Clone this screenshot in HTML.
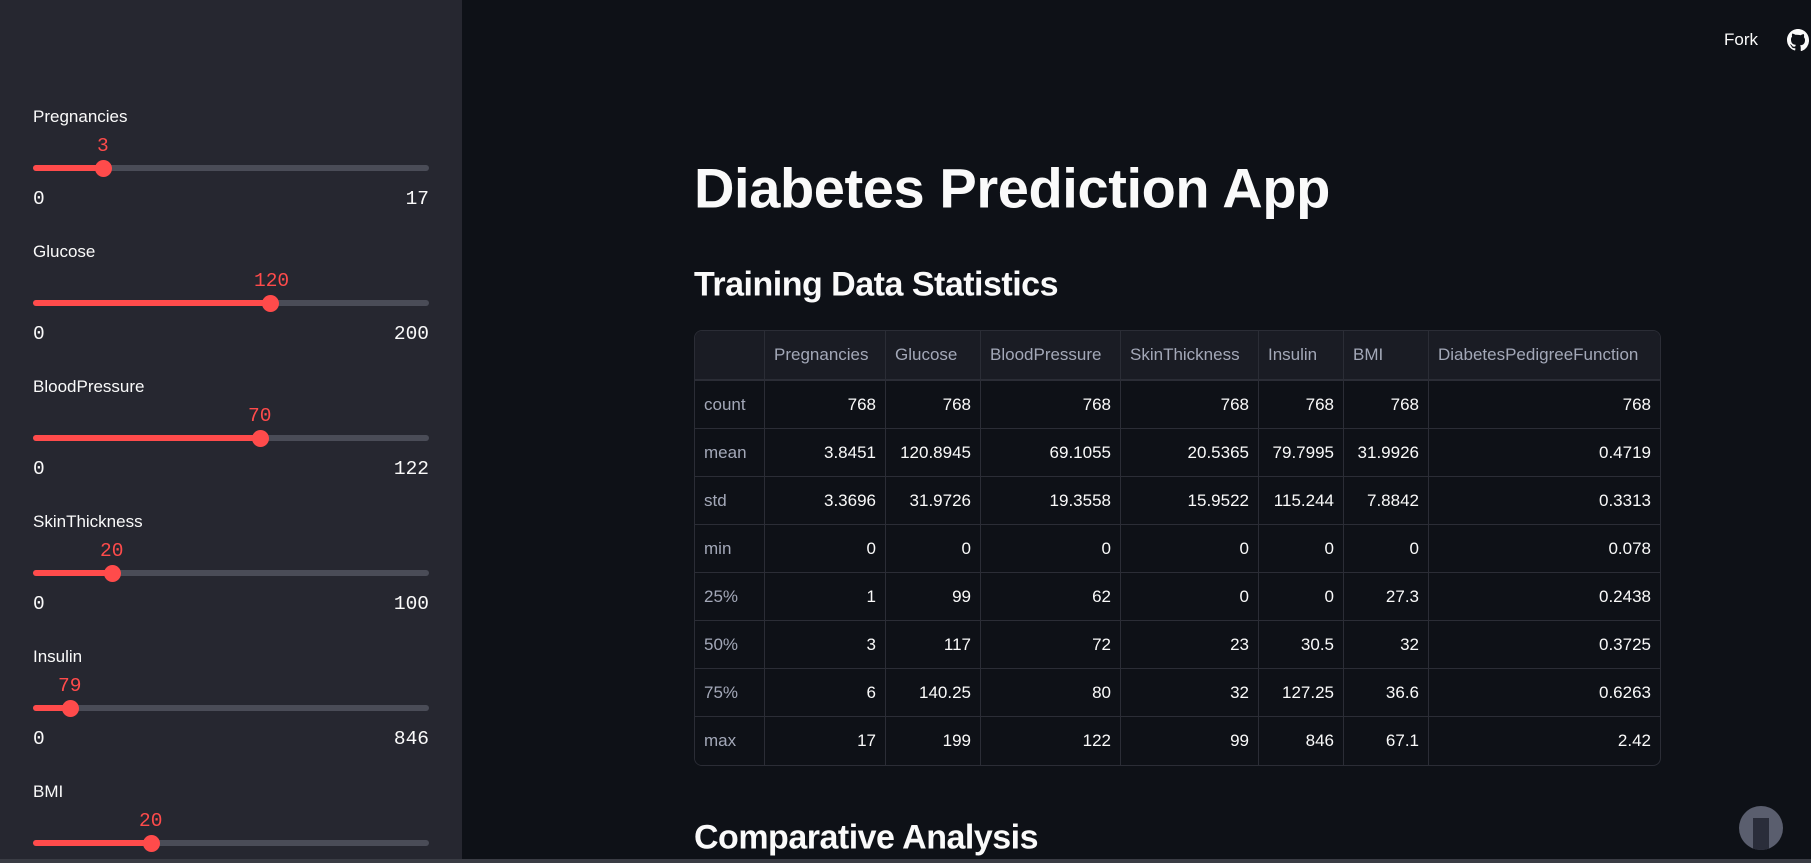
<!DOCTYPE html>
<html><head><meta charset="utf-8"><style>
*{margin:0;padding:0;box-sizing:border-box}
body{width:1811px;height:863px;background:#0e1117;overflow:hidden;position:relative;font-family:"Liberation Sans",sans-serif;color:#fafafa}
#side{position:absolute;left:0;top:0;width:462px;height:863px;background:#262730}
.lab{position:absolute;left:33px;font-size:17px;transform:translateY(-50%);color:#fafafa}
.mono{position:absolute;font-family:"Liberation Mono",monospace;font-size:19.5px;transform:translateY(-50%)}
.r0{right:33px}
.track{position:absolute;left:33px;width:396px;height:6px;border-radius:3px;background:#4a4c57}
.fill{position:absolute;left:0;top:0;height:6px;border-radius:3px;background:#ff4b4b}
.thumb{position:absolute;width:17px;height:17px;border-radius:50%;background:#ff4b4b;top:-5.5px;margin-left:-8px}
h1{position:absolute;left:694px;top:188px;transform:translateY(-50%);font-size:56px;font-weight:bold;letter-spacing:-0.4px}
h2{position:absolute;left:694px;transform:translateY(-50%);font-size:34px;font-weight:bold;letter-spacing:-0.5px}
table{position:absolute;left:694px;top:330px;width:967px;border-collapse:separate;border-spacing:0;border:1px solid #2b2d36;border-radius:8px;overflow:hidden;font-size:17px}
td,th{border-right:1px solid #2b2d36;border-bottom:1px solid #2b2d36;padding:0 9px;height:48px;text-align:right;font-weight:normal;white-space:nowrap}
th{background:#1a1c24;color:#a3a8b8;text-align:left;height:50px;border-bottom:2px solid #2b2d36}
td.r{background:#0e1117;color:#a3a8b8;text-align:left}
tr td:last-child,tr th:last-child{border-right:none}
tr:last-child td{border-bottom:none}
</style></head><body>
<div id="side">
<div class="lab" style="top:117px">Pregnancies</div>
<div class="mono" style="top:146px;left:97px;color:#ff4b4b">3</div>
<div class="track" style="top:165px"><div class="fill" style="width:70px"></div><div class="thumb" style="left:70px"></div></div>
<div class="mono" style="top:199px;left:33px">0</div><div class="mono r0" style="top:199px">17</div>

<div class="lab" style="top:252px">Glucose</div>
<div class="mono" style="top:281px;left:254px;color:#ff4b4b">120</div>
<div class="track" style="top:300px"><div class="fill" style="width:237px"></div><div class="thumb" style="left:237px"></div></div>
<div class="mono" style="top:334px;left:33px">0</div><div class="mono r0" style="top:334px">200</div>

<div class="lab" style="top:387px">BloodPressure</div>
<div class="mono" style="top:416px;left:248px;color:#ff4b4b">70</div>
<div class="track" style="top:435px"><div class="fill" style="width:227px"></div><div class="thumb" style="left:227px"></div></div>
<div class="mono" style="top:469px;left:33px">0</div><div class="mono r0" style="top:469px">122</div>

<div class="lab" style="top:522px">SkinThickness</div>
<div class="mono" style="top:551px;left:100px;color:#ff4b4b">20</div>
<div class="track" style="top:570px"><div class="fill" style="width:79px"></div><div class="thumb" style="left:79px"></div></div>
<div class="mono" style="top:604px;left:33px">0</div><div class="mono r0" style="top:604px">100</div>

<div class="lab" style="top:657px">Insulin</div>
<div class="mono" style="top:686px;left:58px;color:#ff4b4b">79</div>
<div class="track" style="top:705px"><div class="fill" style="width:37px"></div><div class="thumb" style="left:37px"></div></div>
<div class="mono" style="top:739px;left:33px">0</div><div class="mono r0" style="top:739px">846</div>

<div class="lab" style="top:792px">BMI</div>
<div class="mono" style="top:821px;left:139px;color:#ff4b4b">20</div>
<div class="track" style="top:840px"><div class="fill" style="width:118px"></div><div class="thumb" style="left:118px"></div></div>
</div>

<div style="position:absolute;left:1724px;top:40px;transform:translateY(-50%);font-size:17px">Fork</div>
<svg style="position:absolute;left:1787px;top:29px" width="22" height="22" viewBox="0 0 16 16"><path fill="#fafafa" d="M8 0C3.58 0 0 3.58 0 8c0 3.54 2.29 6.53 5.47 7.59.4.07.55-.17.55-.38v-1.33c-2.23.48-2.7-1.07-2.7-1.07-.36-.92-.89-1.17-.89-1.17-.73-.5.05-.49.05-.49.8.06 1.23.83 1.23.83.71 1.22 1.87.87 2.33.66.07-.52.28-.87.5-1.07-1.78-.2-3.64-.89-3.64-3.95 0-.87.31-1.59.82-2.15-.08-.2-.36-1.02.08-2.12 0 0 .67-.21 2.2.82A7.6 7.6 0 0 1 8 4.3c.68 0 1.36.09 2 .27 1.53-1.04 2.2-.82 2.2-.82.44 1.1.16 1.92.08 2.12.51.56.82 1.27.82 2.15 0 3.07-1.87 3.75-3.65 3.95.29.25.54.73.54 1.48v2.2c0 .21.15.46.55.38A8 8 0 0 0 16 8c0-4.42-3.58-8-8-8z"/></svg>
<div style="position:absolute;left:1739px;top:806px;width:44px;height:44px;border-radius:50%;background:#5a5e6e;overflow:hidden"><div style="position:absolute;left:14px;top:12px;width:16px;height:32px;background:#2a2d3a"></div></div>
<div style="position:absolute;left:0;top:859px;width:1811px;height:4px;background:#3a3c44"></div>

<h1>Diabetes Prediction App</h1>
<h2 style="top:285px">Training Data Statistics</h2>
<table>
<tr><th style="width:70px"></th><th style="width:121px">Pregnancies</th><th style="width:95px">Glucose</th><th style="width:140px">BloodPressure</th><th style="width:138px">SkinThickness</th><th style="width:85px">Insulin</th><th style="width:85px">BMI</th><th>DiabetesPedigreeFunction</th></tr>
<tr><td class="r">count</td><td>768</td><td>768</td><td>768</td><td>768</td><td>768</td><td>768</td><td>768</td></tr>
<tr><td class="r">mean</td><td>3.8451</td><td>120.8945</td><td>69.1055</td><td>20.5365</td><td>79.7995</td><td>31.9926</td><td>0.4719</td></tr>
<tr><td class="r">std</td><td>3.3696</td><td>31.9726</td><td>19.3558</td><td>15.9522</td><td>115.244</td><td>7.8842</td><td>0.3313</td></tr>
<tr><td class="r">min</td><td>0</td><td>0</td><td>0</td><td>0</td><td>0</td><td>0</td><td>0.078</td></tr>
<tr><td class="r">25%</td><td>1</td><td>99</td><td>62</td><td>0</td><td>0</td><td>27.3</td><td>0.2438</td></tr>
<tr><td class="r">50%</td><td>3</td><td>117</td><td>72</td><td>23</td><td>30.5</td><td>32</td><td>0.3725</td></tr>
<tr><td class="r">75%</td><td>6</td><td>140.25</td><td>80</td><td>32</td><td>127.25</td><td>36.6</td><td>0.6263</td></tr>
<tr><td class="r">max</td><td>17</td><td>199</td><td>122</td><td>99</td><td>846</td><td>67.1</td><td>2.42</td></tr>
</table>
<h2 style="top:838px">Comparative Analysis</h2>
</body></html>
